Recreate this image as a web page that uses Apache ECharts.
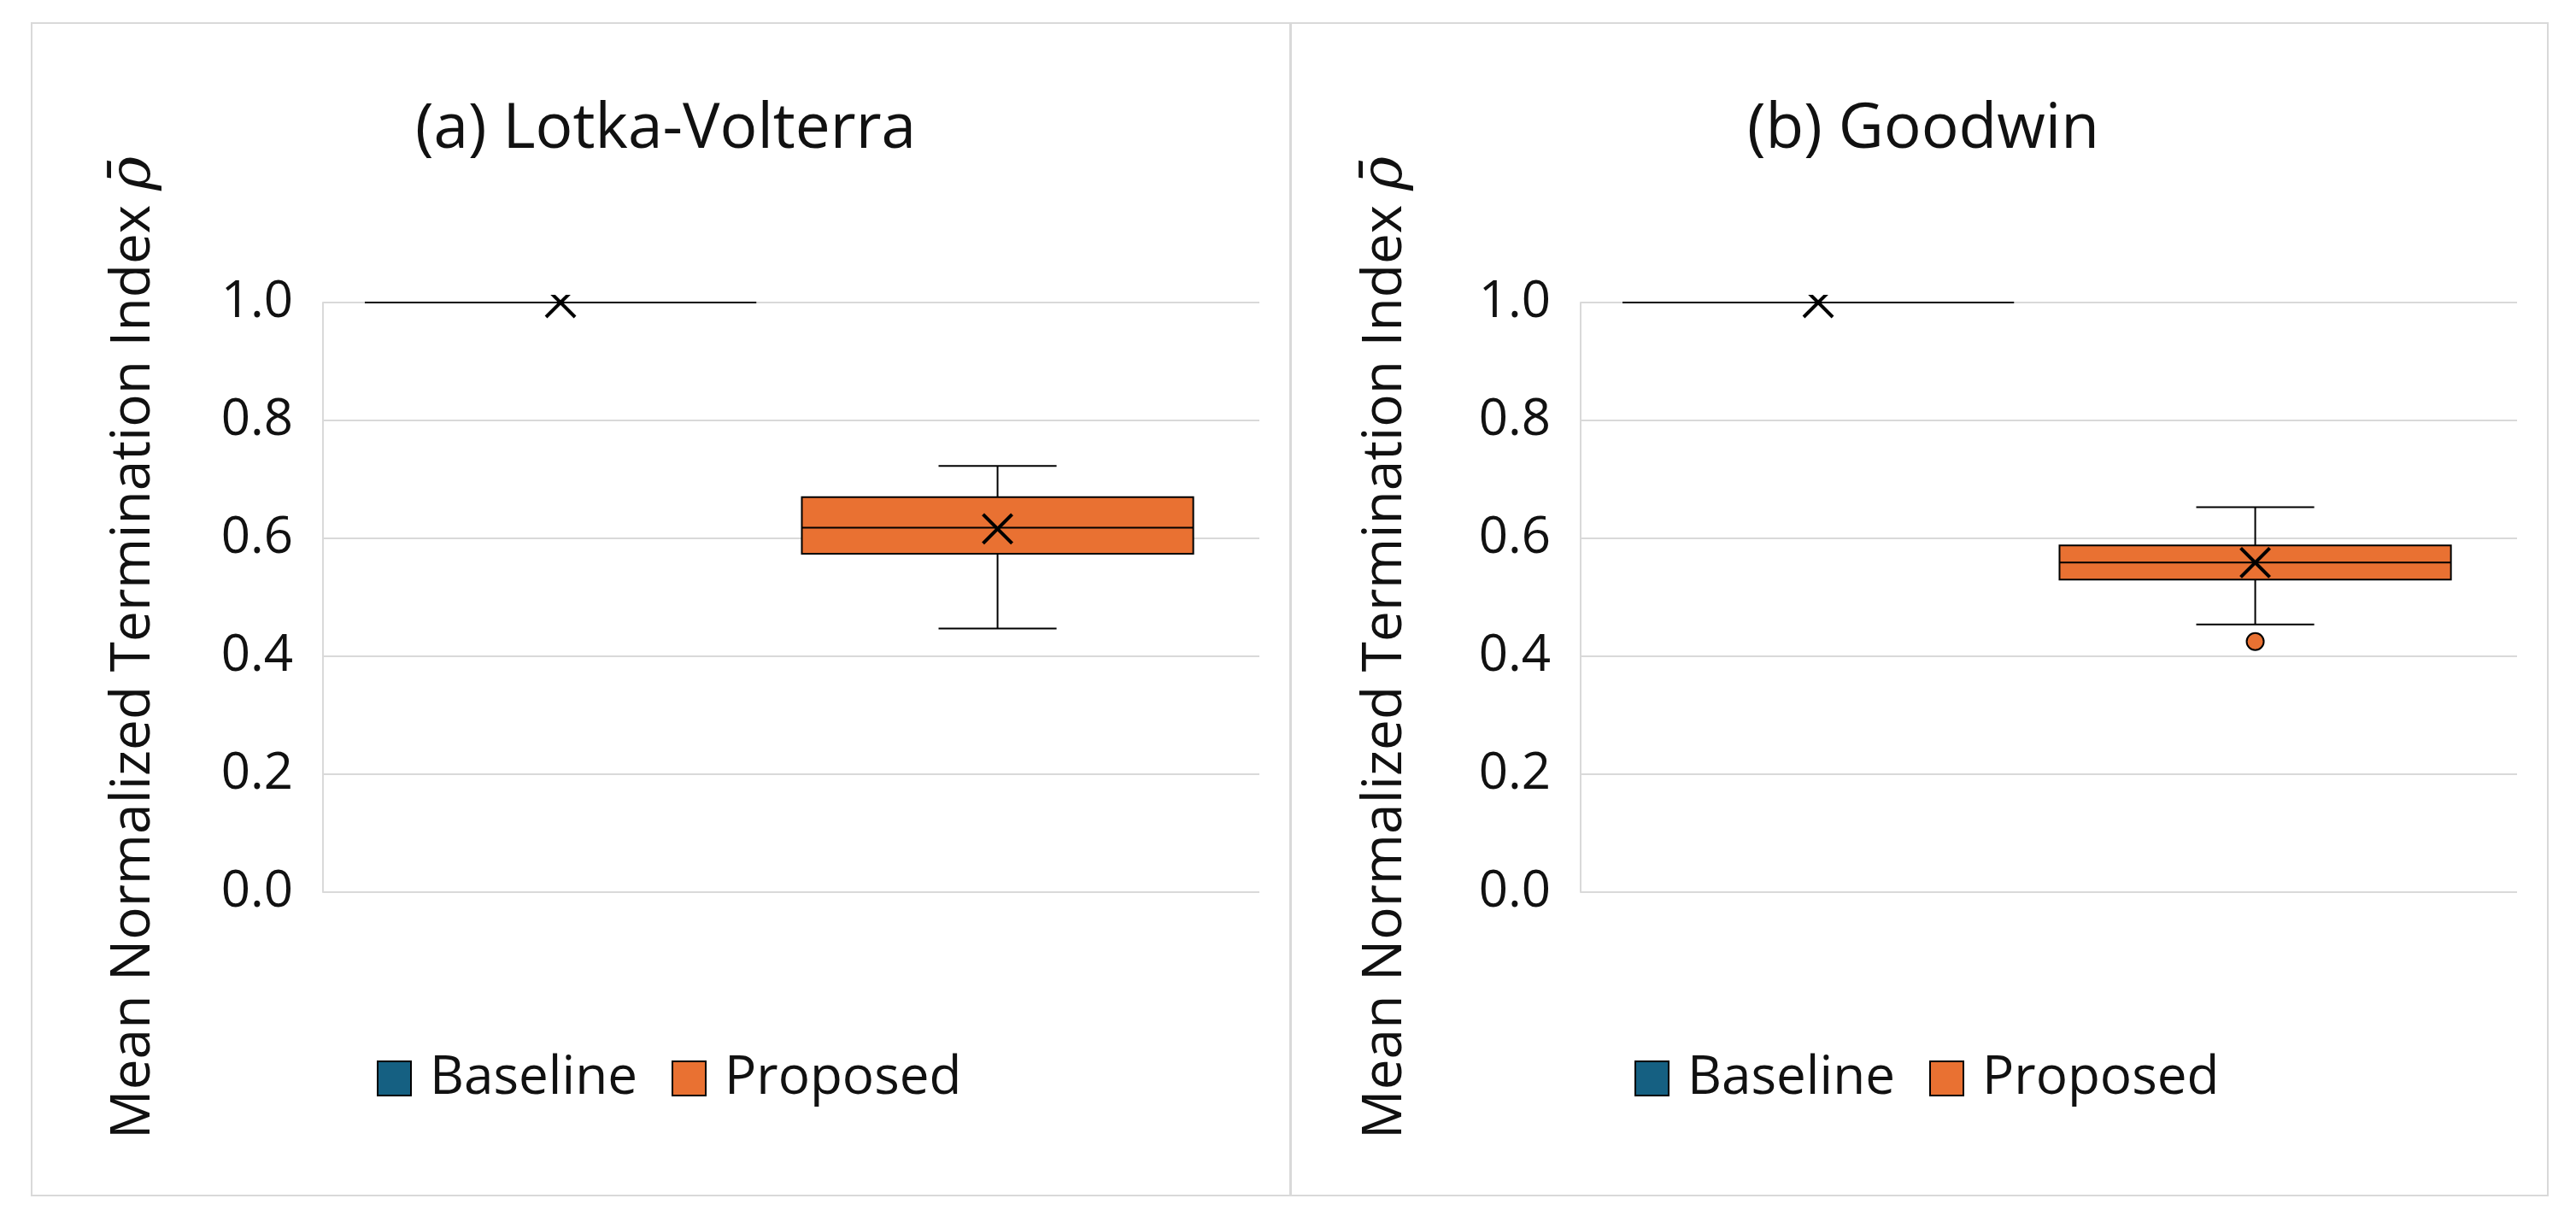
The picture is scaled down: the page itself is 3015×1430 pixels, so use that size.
<!DOCTYPE html>
<html>
<head>
<meta charset="utf-8">
<script src="https://cdn.jsdelivr.net/npm/echarts@6/dist/echarts.min.js"></script>
<style>
html,body{margin:0;padding:0;background:#fff;}
#chart{width:3015px;height:1430px;}
</style>
</head>
<body>
<div id="chart"></div>
<script>
// ---------- data ----------
const categories = [''];
const seriesNames = ['Baseline', 'Proposed'];
const panelTitles = ['(a) Lotka-Volterra', '(b) Goodwin'];
const yAxisTitle = 'Mean Normalized Termination Index ';
const yAxisSymbol = 'ρ\u0304';
const yMin = 0, yMax = 1.0, yStep = 0.2;
// box stats: [min, Q1, median, Q3, max]
const lvBaseline = [1.0, 1.0, 1.0, 1.0, 1.0];
const lvProposed = [0.447, 0.574, 0.618, 0.670, 0.723];
const lvMeans = [1.0, 0.616];
const lvOutliers = [[], []];
const gwBaseline = [1.0, 1.0, 1.0, 1.0, 1.0];
const gwProposed = [0.454, 0.530, 0.559, 0.588, 0.653];
const gwMeans = [1.0, 0.559];
const gwOutliers = [[], [0.425]];
const colors = ['#156082', '#E97132'];

// ---------- layout / style ----------
const FONT = 'Open Sans';
const TXT = '#111111';
const GRID_W = 1096, GRID_H = 690, GRID_TOP = 354;
const panelLeft = [378, 1850];
const CLIP_PAD = 9;
const OFFSETS = [-0.2463, 0.2204];  // fraction of band
const BOX_W = 0.418, CAP_W = 0.126;
const MK = 17;

const panels = [
  { boxes: [lvBaseline, lvProposed], means: lvMeans, outliers: lvOutliers },
  { boxes: [gwBaseline, gwProposed], means: gwMeans, outliers: gwOutliers }
];

function seg(x1, y1, x2, y2, w) {
  return { type: 'line', shape: { x1, y1, x2, y2 }, style: { stroke: '#000', lineWidth: w } };
}
function boxRender(si) {
  return function (params, api) {
    const band = api.size([1, 0])[0];
    const x0 = api.value(0);
    const cx = api.coord([x0, 0])[0] + OFFSETS[si] * band;
    const y = v => api.coord([x0, v])[1];
    const lo = api.value(1), q1 = api.value(2), med = api.value(3), q3 = api.value(4), hi = api.value(5), mean = api.value(6);
    const hw = BOX_W * band / 2, cw = CAP_W * band / 2;
    const ym = y(mean);
    return {
      type: 'group', children: [
        seg(cx, y(hi), cx, y(q3), 2),
        seg(cx, y(q1), cx, y(lo), 2),
        seg(cx - cw, y(hi), cx + cw, y(hi), 2),
        seg(cx - cw, y(lo), cx + cw, y(lo), 2),
        { type: 'rect', shape: { x: cx - hw, y: y(q3), width: 2 * hw, height: y(q1) - y(q3) },
          style: { fill: api.visual('color'), stroke: '#000', lineWidth: 2 } },
        seg(cx - hw, y(med), cx + hw, y(med), 2),
        seg(cx - MK, ym - MK, cx + MK, ym + MK, 4),
        seg(cx - MK, ym + MK, cx + MK, ym - MK, 4)
      ]
    };
  };
}
function outlierRender(si) {
  return function (params, api) {
    const band = api.size([1, 0])[0];
    const p = api.coord([api.value(0), api.value(1)]);
    return { type: 'circle', shape: { cx: p[0] + OFFSETS[si] * band, cy: p[1], r: 10 },
      style: { fill: api.visual('color'), stroke: '#000', lineWidth: 2 } };
  };
}

const grid = [], xAxis = [], yAxis = [], series = [], title = [], legend = [], graphic = [];
panels.forEach((pn, pi) => {
  const L = panelLeft[pi];
  // axis grid
  grid.push({ left: L, top: GRID_TOP, width: GRID_W, height: GRID_H });
  // data grid (slightly taller for clipping)
  grid.push({ left: L, top: GRID_TOP - CLIP_PAD, width: GRID_W, height: GRID_H + CLIP_PAD });
  const ga = pi * 2, gd = pi * 2 + 1;
  xAxis.push({ gridIndex: ga, type: 'category', data: categories, show: false });
  xAxis.push({ gridIndex: gd, type: 'category', data: categories, show: false });
  yAxis.push({
    gridIndex: ga, type: 'value', min: yMin, max: yMax, interval: yStep,
    axisLine: { show: true, lineStyle: { color: '#d9d9d9', width: 2 } },
    axisTick: { show: false },
    splitLine: { show: true, lineStyle: { color: '#d9d9d9', width: 2 } },
    axisLabel: { fontSize: 60, fontFamily: FONT, color: TXT, margin: 35, formatter: v => v.toFixed(1) }
  });
  yAxis.push({ gridIndex: gd, type: 'value', min: yMin, max: yMax * (1 + CLIP_PAD / GRID_H), show: false, splitLine: { show: false } });
  seriesNames.forEach((nm, si) => {
    series.push({
      type: 'custom', name: nm, xAxisIndex: gd, yAxisIndex: gd, clip: true,
      itemStyle: { color: colors[si] },
      renderItem: boxRender(si),
      encode: { x: 0, y: [1, 2, 3, 4, 5, 6] },
      data: [[0].concat(pn.boxes[si], [pn.means[si]])]
    });
    if (pn.outliers[si].length) {
      series.push({
        type: 'custom', name: nm, xAxisIndex: gd, yAxisIndex: gd, clip: true,
        itemStyle: { color: colors[si] },
        renderItem: outlierRender(si),
        encode: { x: 0, y: 1 },
        data: pn.outliers[si].map(v => [0, v])
      });
    }
  });
  const cxPanel = [774, 2246][pi];
  title.push({
    text: panelTitles[pi], left: cxPanel, top: 111, textAlign: 'center',
    textStyle: { fontSize: 73, fontWeight: 'normal', fontFamily: FONT, color: TXT }
  });
  legend.push({
    left: [436, 1908][pi], top: 1226, orient: 'horizontal',
    itemWidth: 39, itemHeight: 40, itemGap: 40, icon: 'rect',
    textStyle: { fontSize: 62, lineHeight: 40, fontFamily: FONT, color: TXT, padding: [0, 0, 0, 17] },
    data: seriesNames.map((nm, si) => ({ name: nm, itemStyle: { color: colors[si], borderColor: '#000', borderWidth: 2 } }))
  });
  graphic.push({
    type: 'text', x: [157, 1622][pi], y: 758, rotation: Math.PI / 2, silent: true,
    style: {
      text: '{a|' + yAxisTitle + '}{b|' + yAxisSymbol + '}',
      align: 'center', verticalAlign: 'middle',
      rich: {
        a: { fontSize: 64, fontFamily: FONT, fill: TXT },
        b: { fontSize: 68, fontFamily: 'DejaVu Serif', fontStyle: 'italic', fill: TXT }
      }
    }
  });
});
graphic.push({ type: 'rect', shape: { x: 37, y: 27, width: 1473, height: 1372 }, style: { fill: 'none', stroke: '#d9d9d9', lineWidth: 2 }, z: -10, silent: true });
graphic.push({ type: 'rect', shape: { x: 1511, y: 27, width: 1471, height: 1372 }, style: { fill: 'none', stroke: '#d9d9d9', lineWidth: 2 }, z: -10, silent: true });

const chart = echarts.init(document.getElementById('chart'));
chart.setOption({
  backgroundColor: '#ffffff',
  animation: false,
  title, legend, grid, xAxis, yAxis, series, graphic
});
</script>
</body>
</html>
